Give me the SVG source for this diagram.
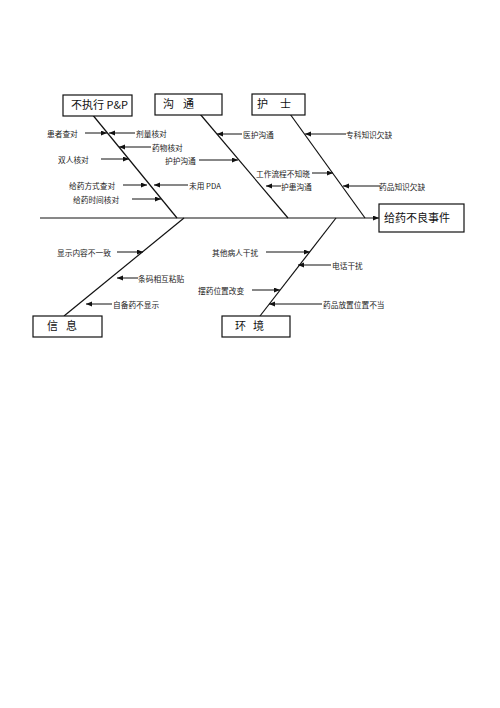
<svg xmlns="http://www.w3.org/2000/svg" width="500" height="708" viewBox="0 0 500 708">
<style>
.box{fill:#fff;stroke:#111;stroke-width:1.2}
.bt{font-family:"Noto Sans CJK SC","Liberation Sans",sans-serif;font-size:11px;fill:#111}
.lb{font-family:"Noto Sans CJK SC","Liberation Sans",sans-serif;font-size:7.7px;fill:#222;dominant-baseline:central}
.bone{stroke:#111;stroke-width:1.2;fill:none}
.ar{stroke:#111;stroke-width:1;fill:none;marker-end:url(#ah)}
</style>
<defs>
<marker id="ah" markerUnits="userSpaceOnUse" markerWidth="7" markerHeight="6" refX="6" refY="2.5" orient="auto">
<path d="M0,0 L6,2.5 L0,5 z" fill="#111"/>
</marker>
</defs>
<rect width="500" height="708" fill="#fff"/>
<g id="connectors">
<line class="ar" x1="40" y1="218" x2="379" y2="218"/>
<line class="bone" x1="87" y1="108" x2="177" y2="218"/>
<line class="bone" x1="200" y1="114" x2="288" y2="218"/>
<line class="bone" x1="290" y1="114" x2="365" y2="218"/>
<line class="bone" x1="184" y1="218" x2="64" y2="316"/>
<line class="bone" x1="336" y1="218" x2="260" y2="316"/>
<line class="ar" x1="85" y1="133" x2="107" y2="133"/>
<line class="ar" x1="135" y1="133" x2="109" y2="133"/>
<line class="ar" x1="151" y1="147" x2="119" y2="147"/>
<line class="ar" x1="101" y1="159" x2="129" y2="159"/>
<line class="ar" x1="123" y1="185" x2="147" y2="185"/>
<line class="ar" x1="188" y1="185" x2="154" y2="185"/>
<line class="ar" x1="132" y1="199" x2="161" y2="199"/>
<line class="ar" x1="242" y1="134" x2="217" y2="134"/>
<line class="ar" x1="199" y1="160" x2="238" y2="160"/>
<line class="ar" x1="281" y1="186" x2="266" y2="186"/>
<line class="ar" x1="346" y1="134" x2="305" y2="134"/>
<line class="ar" x1="312" y1="173" x2="333" y2="173"/>
<line class="ar" x1="380" y1="186" x2="343" y2="186"/>
<line class="ar" x1="117" y1="252" x2="143" y2="252"/>
<line class="ar" x1="138" y1="278" x2="117" y2="278"/>
<line class="ar" x1="112" y1="304" x2="86" y2="304"/>
<line class="ar" x1="266" y1="252" x2="310" y2="252"/>
<line class="ar" x1="331" y1="265" x2="298" y2="265"/>
<line class="ar" x1="252" y1="290" x2="280" y2="290"/>
<line class="ar" x1="322" y1="304" x2="269" y2="304"/>
</g>
<g id="n-pp"><rect class="box" x="63" y="95" width="69" height="21"/><text class="bt" x="71" y="109">不执行 P&amp;P</text></g>
<g id="n-comm"><rect class="box" x="155" y="94" width="67" height="21"/><text class="bt" x="163 183" y="108">沟通</text></g>
<g id="n-nurse"><rect class="box" x="252" y="94" width="53" height="21"/><text class="bt" x="257 280" y="108">护士</text></g>
<g id="n-event"><rect class="box" x="379" y="204" width="85" height="28"/><text class="bt" x="384" y="222">给药不良事件</text></g>
<g id="n-info"><rect class="box" x="33" y="316" width="69" height="21"/><text class="bt" x="47 66" y="330">信息</text></g>
<g id="n-env"><rect class="box" x="222" y="316" width="68" height="21"/><text class="bt" x="235 253" y="330">环境</text></g>
<g id="labels">
<g id="c1"><text class="lb" x="47" y="133">患者查对</text></g>
<g id="c2"><text class="lb" x="136" y="133">剂量核对</text></g>
<g id="c3"><text class="lb" x="152" y="147">药物核对</text></g>
<g id="c4"><text class="lb" x="58" y="159">双人核对</text></g>
<g id="c5"><text class="lb" x="165" y="160">护护沟通</text></g>
<g id="c6"><text class="lb" x="69" y="185">给药方式查对</text></g>
<g id="c7"><text class="lb" x="189" y="185">未用 PDA</text></g>
<g id="c8"><text class="lb" x="73" y="199">给药时间核对</text></g>
<g id="c9"><text class="lb" x="243" y="134">医护沟通</text></g>
<g id="c10"><text class="lb" x="256" y="173">工作流程不知晓</text></g>
<g id="c11"><text class="lb" x="281" y="186">护患沟通</text></g>
<g id="c12"><text class="lb" x="346" y="134">专科知识欠缺</text></g>
<g id="c13"><text class="lb" x="379" y="186">药品知识欠缺</text></g>
<g id="c14"><text class="lb" x="57" y="252">显示内容不一致</text></g>
<g id="c15"><text class="lb" x="138" y="278">条码相互粘贴</text></g>
<g id="c16"><text class="lb" x="113" y="304">自备药不显示</text></g>
<g id="c17"><text class="lb" x="212" y="252">其他病人干扰</text></g>
<g id="c18"><text class="lb" x="332" y="265">电话干扰</text></g>
<g id="c19"><text class="lb" x="198" y="290">摆药位置改变</text></g>
<g id="c20"><text class="lb" x="323" y="304">药品放置位置不当</text></g>
</g>
</svg>
